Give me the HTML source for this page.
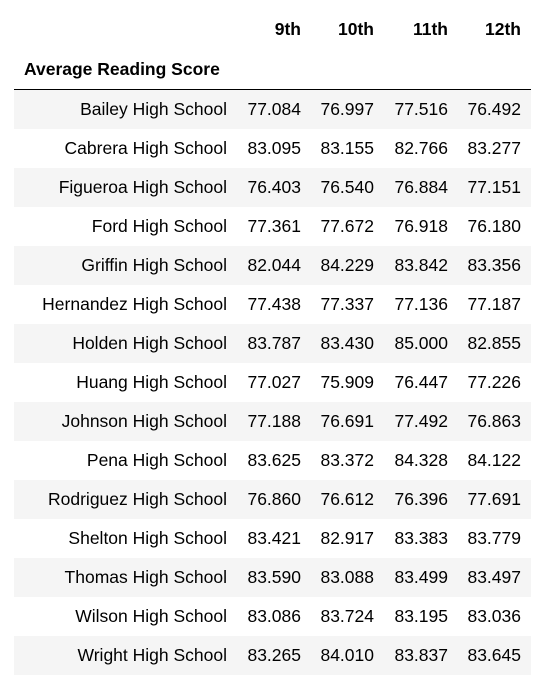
<!DOCTYPE html>
<html><head><meta charset="utf-8"><style>
body{margin:0;background:#fff;width:557px;height:690px;overflow:hidden;font-family:"Liberation Sans",Arial,sans-serif;font-size:17.5px;color:#000}
table{position:absolute;left:14px;top:10px;border-collapse:collapse;table-layout:fixed}
td,th{padding:0 10px 0 0;text-align:right;white-space:nowrap}
th{font-weight:bold}
tr.h1 th{height:39px}
tr.h2 th{height:40px;text-align:left;padding-left:10px}
tbody tr{height:39px}
tbody tr:nth-child(odd){background:#f5f5f5}
thead tr.h2 th{border-bottom:1px solid #000}
</style></head><body>
<table>
<colgroup><col style="width:223px"><col style="width:74px"><col style="width:73px"><col style="width:74px"><col style="width:73px"></colgroup>
<thead>
<tr class="h1"><th></th><th>9th</th><th>10th</th><th>11th</th><th>12th</th></tr>
<tr class="h2"><th colspan="5">Average Reading Score</th></tr>
</thead>
<tbody id="tb"></tbody>
</table>
<script>
const schools=["Bailey High School","Cabrera High School","Figueroa High School","Ford High School","Griffin High School","Hernandez High School","Holden High School","Huang High School","Johnson High School","Pena High School","Rodriguez High School","Shelton High School","Thomas High School","Wilson High School","Wright High School"];
const g9=["77.084","83.095","76.403","77.361","82.044","77.438","83.787","77.027","77.188","83.625","76.860","83.421","83.590","83.086","83.265"];
const g10=["76.997","83.155","76.540","77.672","84.229","77.337","83.430","75.909","76.691","83.372","76.612","82.917","83.088","83.724","84.010"];
const g11=["77.516","82.766","76.884","76.918","83.842","77.136","85.000","76.447","77.492","84.328","76.396","83.383","83.499","83.195","83.837"];
const g12=["76.492","83.277","77.151","76.180","83.356","77.187","82.855","77.226","76.863","84.122","77.691","83.779","83.497","83.036","83.645"];
const tb=document.getElementById('tb');
schools.forEach((s,i)=>{
  const tr=document.createElement('tr');
  
  
  [s,g9[i],g10[i],g11[i],g12[i]].forEach((v,j)=>{
    const td=document.createElement(j?'td':'th');
    
    
    if(!j)td.style.fontWeight='normal';
    td.textContent=v;tr.appendChild(td);
  });
  tb.appendChild(tr);
});
</script>
</body></html>
